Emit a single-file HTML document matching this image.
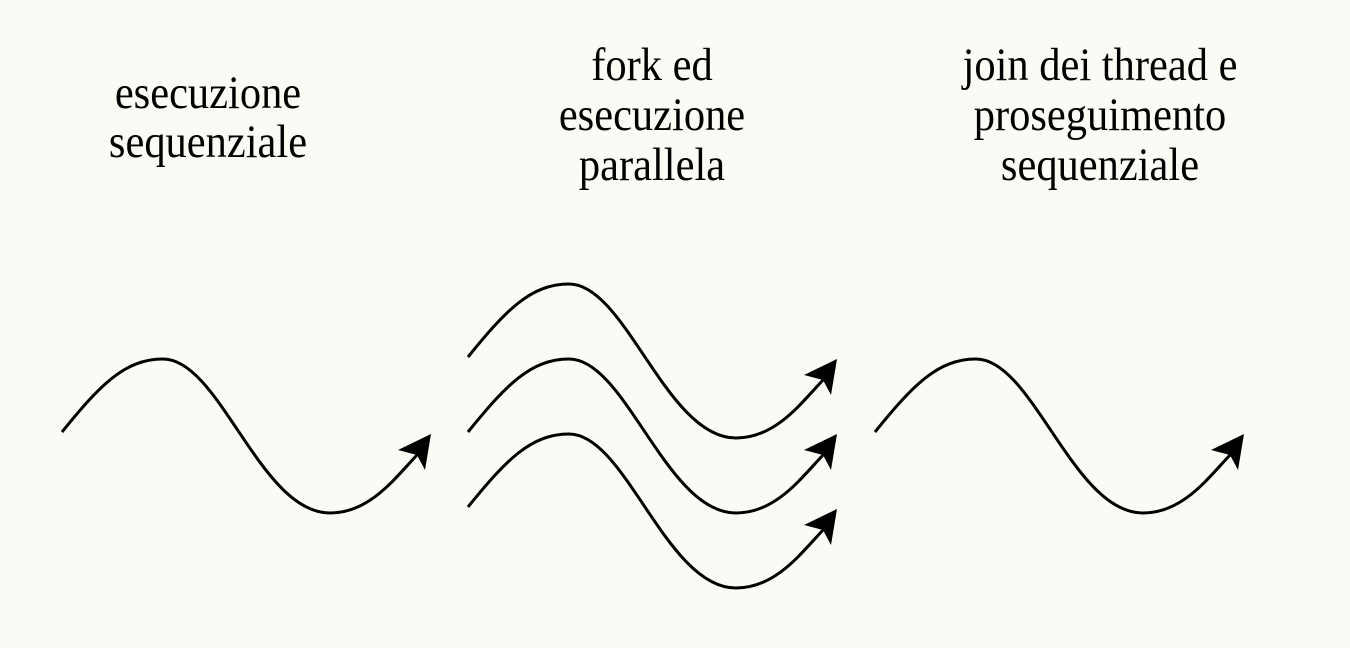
<!DOCTYPE html>
<html><head><meta charset="utf-8"><style>
html,body{margin:0;padding:0;background:#fbfbf6;}
svg{display:block}
text{font-family:"Liberation Serif",serif;font-size:42.5px;fill:#000}
</style></head><body>
<svg width="1350" height="648" viewBox="0 0 1350 648">
<defs>
<g id="w">
<path d="M62,432 C100,385 125,359 163,359 C220,359 260,513 330,513 C370,513 395,478 418,454" fill="none" stroke="#000" stroke-width="3"/>
<path d="M431,434 L398,450 L417,455 L425,470 Z" fill="#000"/>
</g>
</defs>
<text transform="translate(208,108) scale(1,1.1)" text-anchor="middle">esecuzione</text>
<text transform="translate(208,157) scale(1,1.1)" text-anchor="middle">sequenziale</text>
<text transform="translate(652,80) scale(1,1.1)" text-anchor="middle">fork ed</text>
<text transform="translate(652,130) scale(1,1.1)" text-anchor="middle">esecuzione</text>
<text transform="translate(652,180) scale(1,1.1)" text-anchor="middle">parallela</text>
<text transform="translate(1100,80) scale(1,1.1)" text-anchor="middle">join dei thread e</text>
<text transform="translate(1100,130) scale(1,1.1)" text-anchor="middle">proseguimento</text>
<text transform="translate(1100,180) scale(1,1.1)" text-anchor="middle">sequenziale</text>
<use href="#w"/>
<use href="#w" transform="translate(406,-75)"/>
<use href="#w" transform="translate(406,0)"/>
<use href="#w" transform="translate(406,75)"/>
<use href="#w" transform="translate(813,0)"/>
</svg>
</body></html>
